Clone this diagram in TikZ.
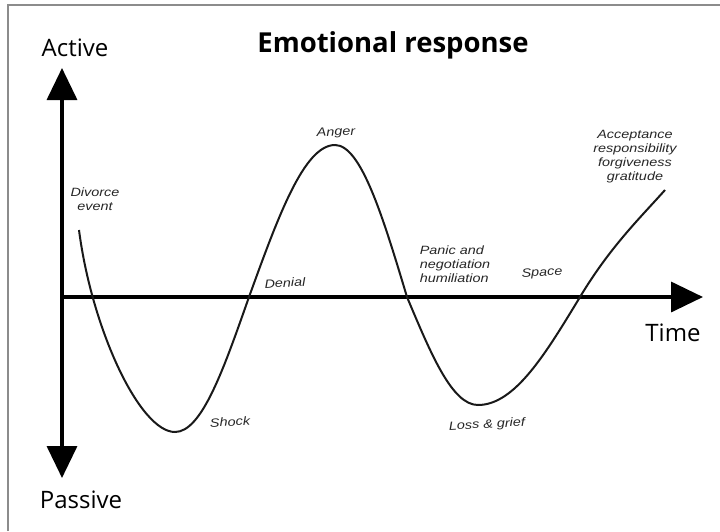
\documentclass[tikz,border=0pt]{standalone}
\usepackage{fontspec}
\setmainfont{Open Sans}
\newfontfamily\handfont[FakeStretch=1.2]{Liberation Sans}
\usetikzlibrary{arrows.meta}
\begin{document}
\begin{tikzpicture}[x=1pt,y=1pt,
  axis/.style={line width=3.5pt,-{Triangle[length=32pt,width=30pt]}},
  biglabel/.style={font=\fontsize{24}{28}\selectfont, inner sep=0pt},
  hand/.style={font=\handfont\itshape\fontsize{12}{14}\selectfont, align=center, inner sep=0pt, text=black!85},
  curve/.style={line width=2pt, black!90}]
\useasboundingbox (0,0) rectangle (720,-531);
% frame (top and left edges)
\draw[black!45, line width=1.2pt] (8,-531) -- (8,-5) -- (720,-5);
% title and axis labels
\node[biglabel, font=\bfseries\fontsize{27.5}{30}\selectfont] (title) at (393,-45) {Emotional response};
\node[biglabel] (active) at (75,-48) {Active};
\node[biglabel] (passive) at (81,-500) {Passive};
\node[biglabel] (time) at (673,-333) {Time};
% axes
\coordinate (o) at (62,-297);
\coordinate (top) at (62,-68);
\coordinate (bot) at (62,-478);
\coordinate (right) at (703,-297);
\draw[axis] (o) -- (top);
\draw[axis] (o) -- (bot);
\draw[axis] (o) -- (right);
% emotional curve
\draw[curve] (79,-230) .. controls (92,-330) and (140,-432) .. (175,-432)
  .. controls (202,-432) and (224,-368) .. (249,-297)
  .. controls (278,-217) and (304,-145) .. (335,-145)
  .. controls (361,-145) and (383,-217) .. (407,-297)
  .. controls (431,-354) and (452,-405) .. (478,-405)
  .. controls (515,-405) and (546,-353) .. (580,-297)
  .. controls (610,-247) and (640,-218) .. (665,-190);
% handwritten labels
\node[hand] (divorce) at (95,-199) {Divorce\\event};
\node[hand, rotate=3] (denial) at (285,-283) {Denial};
\node[hand, rotate=3] (anger) at (336,-133) {Anger};
\node[hand, align=left] (panic) at (455,-264) {Panic and\\negotiation\\humiliation};
\node[hand, rotate=3] (space) at (542,-273) {Space};
\node[hand] (accept) at (635,-157) {Acceptance\\responsibility\\forgiveness\\gratitude};
\node[hand, rotate=3] (shock) at (230,-422) {Shock};
\node[hand, rotate=3] (loss) at (487,-425) {Loss \& grief};
\end{tikzpicture}
\end{document}
